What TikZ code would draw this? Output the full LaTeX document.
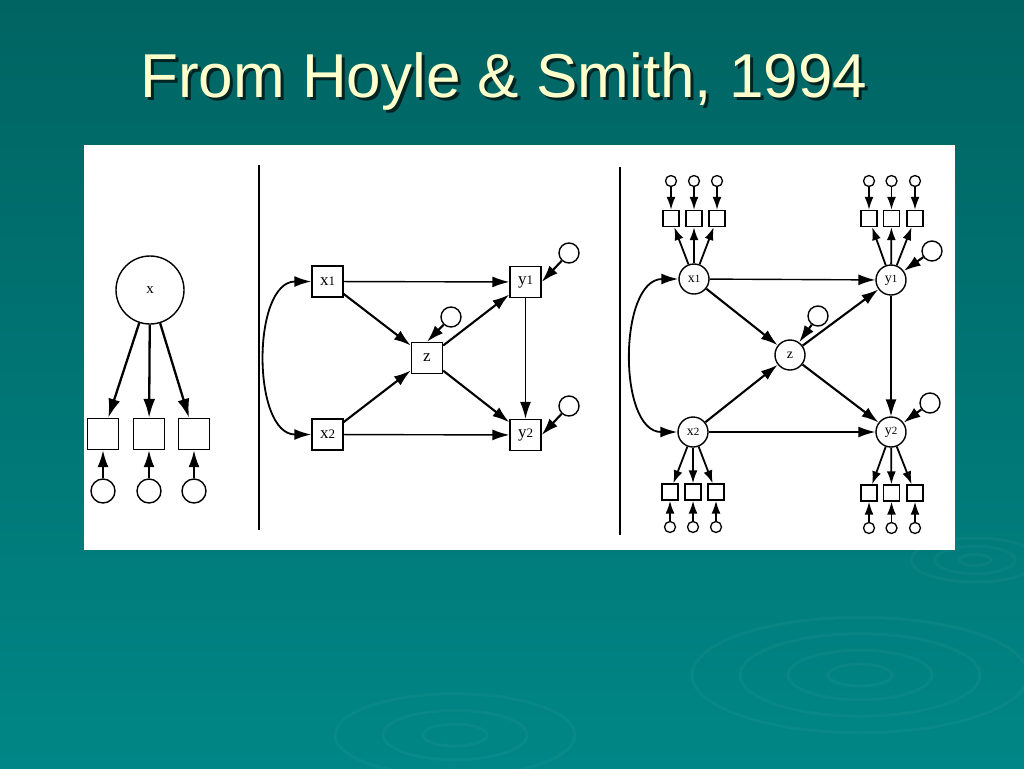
\documentclass[tikz,border=0pt]{standalone}
\usepackage{fontspec}
\setmainfont{Liberation Serif}
\newfontfamily\titlefont{Liberation Sans}
\usetikzlibrary{arrows.meta}
\definecolor{bgtop}{RGB}{0,100,98}
\definecolor{bgbot}{RGB}{0,134,134}
\definecolor{titlecol}{RGB}{255,255,204}
\definecolor{shadowcol}{RGB}{0,35,35}
\newcommand\mylab[1]{{\fontsize{13}{13}\selectfont #1}}
\newcommand\mysmlab[1]{{\fontsize{11}{11}\selectfont #1}}
\begin{document}
\begin{tikzpicture}[x=1pt,y=-1pt,
  box/.style={draw,line width=1.4pt,minimum size=31pt,inner sep=0pt,font=\fontsize{17}{17}\selectfont},
  lv/.style={draw,circle,line width=1.4pt,minimum size=30pt,inner sep=0pt,font=\fontsize{14}{14}\selectfont},
  ind/.style={draw,line width=1.3pt,minimum size=16pt,inner sep=0pt},
  res/.style={draw,circle,line width=1.3pt,minimum size=11pt,inner sep=0pt},
  dis/.style={draw,circle,line width=1.4pt,minimum size=20pt,inner sep=0pt},
  bigarr/.style={-{Latex[length=19pt,width=12pt]},line width=2.3pt},
  thickarr/.style={-{Latex[length=17pt,width=11pt]},line width=2.1pt},
  thinarr/.style={-{Latex[length=17pt,width=11pt]},line width=1.4pt},
  smallarr/.style={-{Latex[length=13pt,width=9pt]},line width=1.8pt},
  dblarr/.style={{Latex[length=17pt,width=11pt]}-{Latex[length=17pt,width=11pt]},line width=1.8pt},
  ripple/.style={draw=white,opacity=0.035,line width=3pt},
]
\useasboundingbox (0,0) rectangle (1024,768);
\shade[top color=bgtop,bottom color=bgbot] (0,0) rectangle (1024,768);
% ripples
\foreach \r in {20,45,75,105} {\draw[ripple] (860,675) ellipse ({\r*1.6} and {\r*0.55});}
\foreach \r in {20,45,75} {\draw[ripple] (455,735) ellipse ({\r*1.6} and {\r*0.55});}
\foreach \r in {10,25,40} {\draw[ripple] (975,560) ellipse ({\r*1.6} and {\r*0.55});}
% title
\node[anchor=base west,inner sep=0pt,text=shadowcol,font=\titlefont\fontsize{62}{62}\selectfont] (titleshadow) at (143,100) {From Hoyle \& Smith, 1994};
\node[anchor=base west,inner sep=0pt,text=titlecol,font=\titlefont\fontsize{62}{62}\selectfont] (title) at (140,97) {From Hoyle \& Smith, 1994};
% panel
\fill[white] (84,145) rectangle (955,550);
\draw[line width=1.4pt] (259,165) -- (259,530);
\draw[line width=1.4pt] (620,167) -- (620,535);
% ---------- left panel
\node[draw,circle,line width=1.4pt,minimum size=68pt,inner sep=0pt,font=\fontsize{15}{15}\selectfont] (X) at (150,290) {x};
\foreach \i/\x in {1/103,2/149,3/194} {
  \node[box] (L\i) at (\x,434) {};
  \node[draw,circle,line width=1.4pt,minimum size=24pt,inner sep=0pt] (Le\i) at (\x,491) {};
  \draw[bigarr] (X) -- (L\i);
  \draw[thickarr] (Le\i) -- (L\i);
}
% ---------- middle panel
\node[box] (X1) at (327.5,281.5) {x\mylab{1}};
\node[box] (Y1) at (525.5,282) {y\mylab{1}};
\node[box] (Z) at (427,358) {z};
\node[box] (X2) at (327.5,434.5) {x\mylab{2}};
\node[box] (Y2) at (525.5,435) {y\mylab{2}};
\node[dis] (dZ) at (451,317) {};
\node[dis] (dY1) at (569,253) {};
\node[dis] (dY2) at (569,406) {};
\draw[thinarr] (X1) -- (Y1);
\draw[thinarr] (X2) -- (Y2);
\draw[thinarr] (Y1) -- (Y2);
\draw[thickarr] (X1) -- (Z);
\draw[thickarr] (X2) -- (Z);
\draw[thickarr] (Z) -- (Y1);
\draw[thickarr] (Z) -- (Y2);
\draw[thickarr] (dZ) -- (Z.north);
\draw[thickarr] (dY1) -- (Y1.east);
\draw[thickarr] (dY2) -- (Y2.east);
\draw[dblarr] (X1.west) to[out=180,in=180] (X2.west);
% ---------- right panel
\node[lv] (RX1) at (694,279) {x\mysmlab{1}};
\node[lv] (RX2) at (693,432) {x\mysmlab{2}};
\node[lv] (RY1) at (891,280) {y\mysmlab{1}};
\node[lv] (RY2) at (891,432) {y\mysmlab{2}};
\node[lv] (RZ) at (790,355) {z};
\node[dis] (RdZ) at (818,316) {};
\node[dis] (RdY1) at (932,251) {};
\node[dis] (RdY2) at (930,403) {};
\draw[thinarr] (RX1) -- (RY1);
\draw[thinarr] (RX2) -- (RY2);
\draw[thinarr] (RY1) -- (RY2);
\draw[thickarr] (RX1) -- (RZ);
\draw[thickarr] (RX2) -- (RZ);
\draw[thickarr] (RZ) -- (RY1);
\draw[thickarr] (RZ) -- (RY2);
\draw[thickarr] (RdZ) -- (RZ);
\draw[thickarr] (RdY1) -- (RY1);
\draw[thickarr] (RdY2) -- (RY2);
\draw[dblarr] (RX1.west) to[out=180,in=180] (RX2.west);
% indicators
\foreach \i/\x in {1/671,2/694,3/717} {
  \node[ind] (sx1\i) at (\x,218.5) {};
  \node[res] (rx1\i) at (\x,181) {};
  \draw[smallarr] (rx1\i) -- (sx1\i);
  \draw[smallarr] (RX1) -- (sx1\i);
}
\foreach \i/\x in {1/670,2/693,3/716} {
  \node[ind] (sx2\i) at (\x,492) {};
  \node[res] (rx2\i) at (\x,527) {};
  \draw[smallarr] (rx2\i) -- (sx2\i);
  \draw[smallarr] (RX2) -- (sx2\i);
}
\foreach \i/\x in {1/869,2/891.5,3/915} {
  \node[ind] (sy1\i) at (\x,218.5) {};
  \node[res] (ry1\i) at (\x,181) {};
  \draw[smallarr] (ry1\i) -- (sy1\i);
  \draw[smallarr] (RY1) -- (sy1\i);
}
\foreach \i/\x in {1/869,2/891.5,3/915} {
  \node[ind] (sy2\i) at (\x,493) {};
  \node[res] (ry2\i) at (\x,528) {};
  \draw[smallarr] (ry2\i) -- (sy2\i);
  \draw[smallarr] (RY2) -- (sy2\i);
}
\end{tikzpicture}
\end{document}
